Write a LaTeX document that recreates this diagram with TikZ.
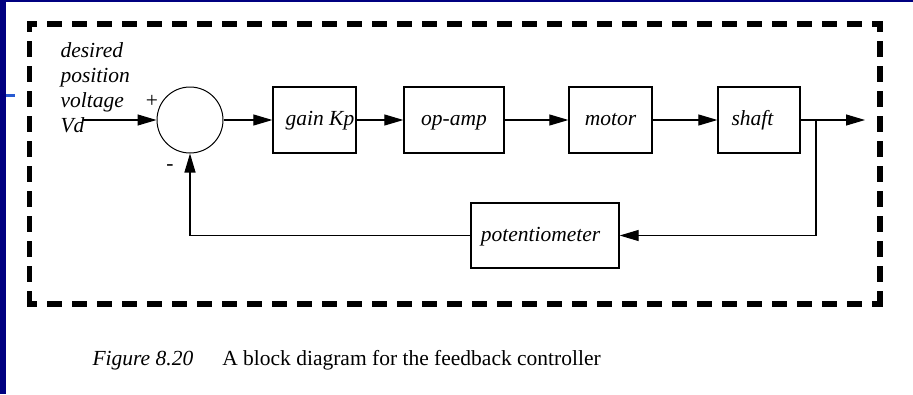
\documentclass[tikz,border=0pt]{standalone}
\usepackage{fontspec}
\setmainfont{Liberation Serif}
\usepackage{tikz}
\usetikzlibrary{arrows.meta,positioning}
\definecolor{slideblue}{RGB}{0,0,128}
\definecolor{tickblue}{RGB}{40,90,210}

\begin{document}
\begin{tikzpicture}[
    x=1pt, y=-1pt,
    >={Triangle[length=19pt,width=11pt]},
    line width=1.1pt,
    every node/.style={font=\fontsize{21.5pt}{25pt}\selectfont\itshape, inner sep=0pt},
    block/.style={draw, line width=1.3pt, minimum width=83pt, minimum height=66pt,
                  text height=16pt, text depth=5pt},
    sumnode/.style={circle, draw, line width=1pt, minimum size=66pt},
    sign/.style={font=\fontsize{21.5pt}{25pt}\selectfont\upshape},
    frameline/.style={line width=5.8pt, line cap=rect, dash pattern=on 9.5pt off 15.5pt, dash phase=4.75pt}
]
  % slide background
  \useasboundingbox (0,0) rectangle (913,394);
  \fill[white] (0,0) rectangle (913,394);
  \fill[slideblue] (0,0) rectangle (6,394);
  \fill[slideblue] (0,0) rectangle (913,1.5);
  \fill[tickblue] (6,94) rectangle (15,97);

  % dashed frame
  \coordinate (tl) at (29.5,24);
  \coordinate (tr) at (880,24);
  \coordinate (bl) at (29.5,304);
  \coordinate (br) at (880,304);
  \draw[frameline] (tl) -- (tr);
  \draw[frameline] (tr) -- (br);
  \draw[frameline] (tl) -- (bl);
  \draw[frameline] (bl) -- (br);

  % nodes
  \node[align=left, anchor=north west] (vd) at (60,42) {desired\\position\\voltage\\Vd};
  \node[sumnode] (sum) at (190,120) {};
  \node[sign] (plus) at (152,101) {+};
  \node[sign] (minus) at (170,168) {-};
  \node[block] (gain) at (314.5,120) {\hspace*{11pt}gain Kp};
  \node[block, minimum width=100pt] (opamp) at (454,120) {op-amp};
  \node[block] (motor) at (610.5,120) {motor};
  \node[block, minimum width=82pt] (shaft) at (759,120) {shaft\hspace*{13pt}};
  \node[block, minimum width=148pt, minimum height=65pt] (pot) at (545,235.5) {potentiometer\hspace*{9pt}};
  \coordinate (in) at (83,120);
  \coordinate (out) at (865,120);
  \coordinate (split) at (816,120);

  % edges
  \draw[->] (in) -- (sum);
  \draw[->] (sum) -- (gain);
  \draw[->] (gain) -- (opamp);
  \draw[->] (opamp) -- (motor);
  \draw[->] (motor) -- (shaft);
  \draw[->] (shaft) -- (out);
  \draw[->] (split) |- (pot);
  \draw[->] (pot) -| (sum);

  % caption
  \node[anchor=base west, font=\fontsize{21.5pt}{25pt}\selectfont] (caption) at (92,365)
    {\textit{Figure 8.20}\hspace{29pt}A block diagram for the feedback controller};
\end{tikzpicture}
\end{document}
